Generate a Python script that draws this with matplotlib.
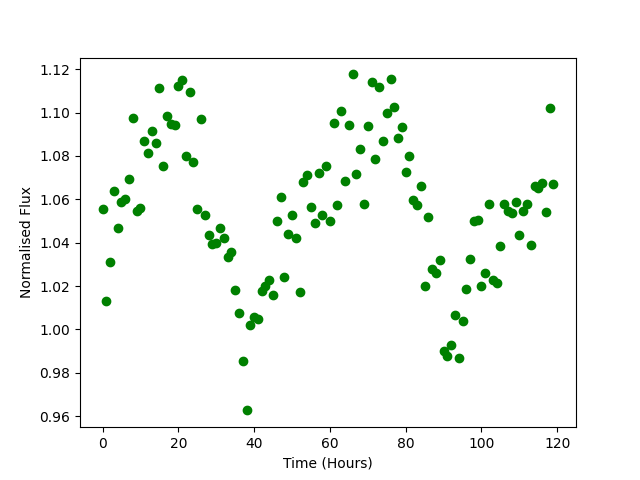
import numpy as np
import matplotlib
matplotlib.use("Agg")
import matplotlib.pyplot as plt

# Time in hours, one reading per hour
time_hours = np.arange(0, 120)

# Normalised flux
flux = [
    1.0555, 1.013, 1.031, 1.064, 1.047, 1.059, 1.060, 1.0696, 1.0974, 1.0547,
    1.0558, 1.0867, 1.0813, 1.0917, 1.0862, 1.1112, 1.0756, 1.0983, 1.0947, 1.0941,
    1.1122, 1.115, 1.080, 1.1094, 1.077, 1.0555, 1.097, 1.053, 1.0434, 1.0394,
    1.0397, 1.0466, 1.0424, 1.0332, 1.0357, 1.0182, 1.0076, 0.9854, 0.9627, 1.002,
    1.0059, 1.0047, 1.0178, 1.020, 1.0226, 1.0159, 1.050, 1.0613, 1.0241, 1.044,
    1.053, 1.0424, 1.0172, 1.068, 1.0712, 1.0563, 1.0489, 1.072, 1.0527, 1.0753,
    1.050, 1.095, 1.0572, 1.1006, 1.0684, 1.0942, 1.1176, 1.0716, 1.083, 1.0577,
    1.0937, 1.1142, 1.0784, 1.1117, 1.0871, 1.0996, 1.1154, 1.1025, 1.0882, 1.0933,
    1.0725, 1.080, 1.0596, 1.0573, 1.066, 1.020, 1.052, 1.028, 1.026, 1.032,
    0.990, 0.988, 0.9928, 1.0066, 0.9867, 1.0037, 1.0185, 1.0323, 1.0498, 1.0504,
    1.020, 1.0259, 1.058, 1.0226, 1.0215, 1.0383, 1.058, 1.0546, 1.0535, 1.0587,
    1.0434, 1.0546, 1.0578, 1.0388, 1.066, 1.065, 1.0676, 1.054, 1.1019, 1.0673,
]

plt.figure(figsize=(6.4, 4.8), dpi=100)
plt.plot(time_hours, flux, "o", color="green")

plt.xlabel("Time (Hours)")
plt.ylabel("Normalised Flux")

plt.savefig("out.png")
